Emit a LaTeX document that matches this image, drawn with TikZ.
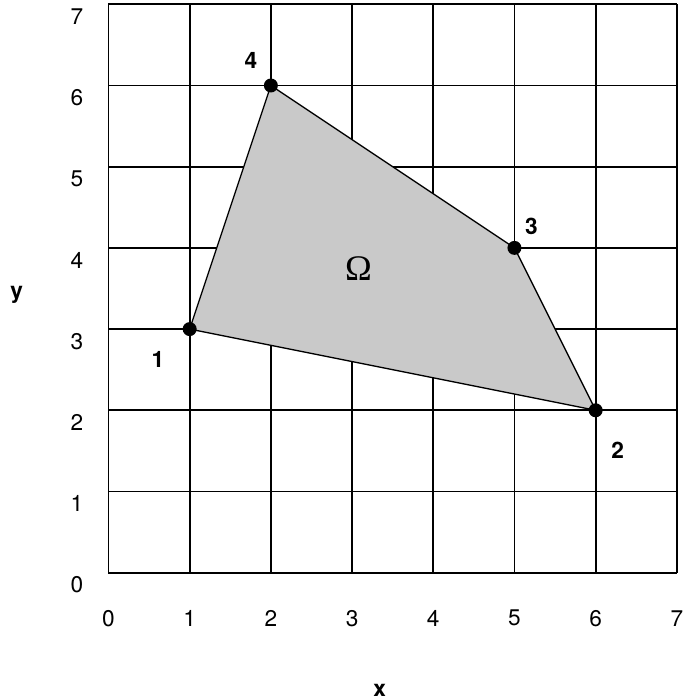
\documentclass[tikz,border=0pt]{standalone}
\usepackage{fontspec}
\setmainfont{TeX Gyre Heros}
\newfontfamily\omfont{Liberation Serif}
\begin{document}
\begin{tikzpicture}[x=60.9pt,y=60.9pt,
  gridline/.style={line width=1.3pt},
  edge/.style={line width=1pt},
  vtx/.style={circle,fill=black,inner sep=0pt,minimum size=10.5pt},
  lab/.style={font=\fontsize{17}{20}\selectfont},
  vlab/.style={font=\fontsize{17}{20}\selectfont\bfseries}]
\useasboundingbox (-1.336,-1.568) rectangle (7.087,7.053);
\foreach \k in {0,...,7} {
  \draw[gridline] (\k,0) -- (\k,7);
  \draw[gridline] (0,\k) -- (7,\k);
}
\coordinate (p1) at (1,3);
\coordinate (p2) at (6,2);
\coordinate (p3) at (5,4);
\coordinate (p4) at (2,6);
\fill[gray!42] (p1) -- (p2) -- (p3) -- (p4) -- cycle;
\draw[edge] (p1) -- (p2) -- (p3) -- (p4) -- cycle;
\node[vtx] (n1) at (p1) {};
\node[vtx] (n2) at (p2) {};
\node[vtx] (n3) at (p3) {};
\node[vtx] (n4) at (p4) {};
\node[vlab] (l1) at (0.61,2.63) {1};
\node[vlab] (l2) at (6.27,1.51) {2};
\node[vlab] (l3) at (5.21,4.27) {3};
\node[vlab] (l4) at (1.755,6.314) {4};
\node (om) at (3.08,3.746) {\omfont\fontsize{27}{30}\selectfont Ω};
\foreach \k in {0,...,7} {
  \node[lab] (xl\k) at (\k,-0.56) {\k};
  \node[lab] (yl\k) at (-0.39,\k-0.15) {\k};
}
\node[vlab] (xa) at (3.34,-1.45) {x};
\node[vlab] (ya) at (-1.13,3.42) {y};
\end{tikzpicture}
\end{document}
